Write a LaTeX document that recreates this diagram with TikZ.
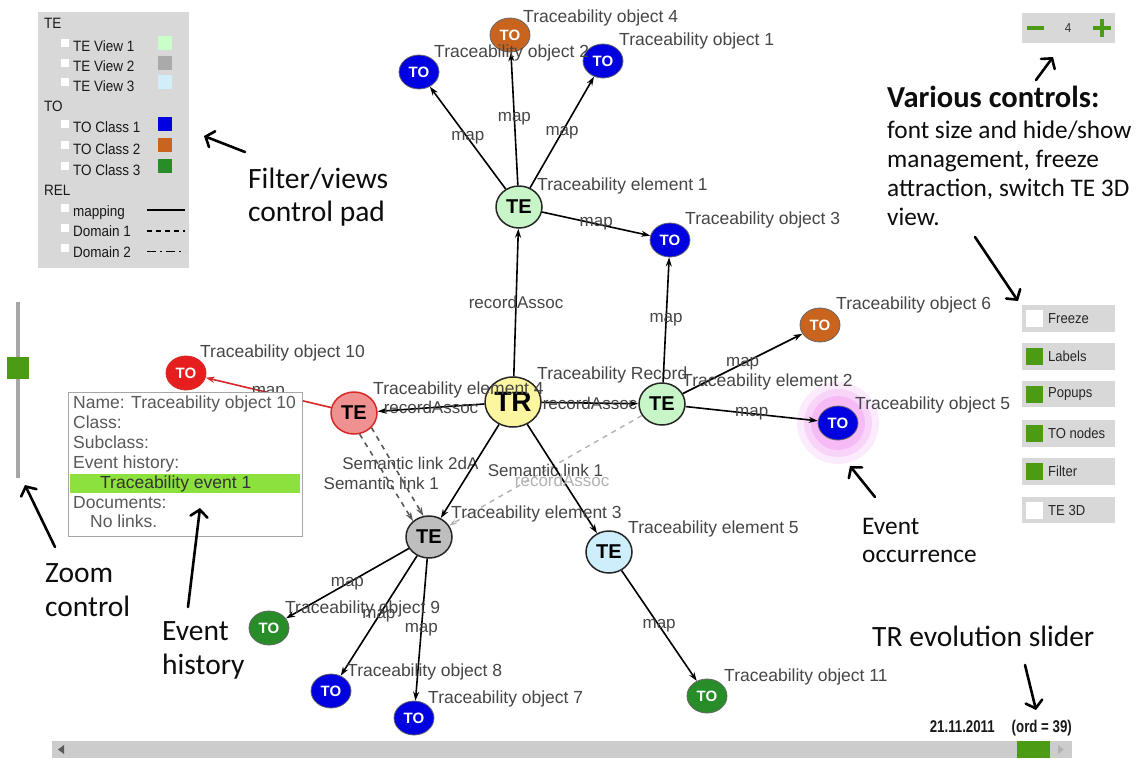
\documentclass[tikz,border=0pt]{standalone}
\usepackage{fontspec}
\usetikzlibrary{shapes.geometric,arrows.meta}
\newfontfamily\arialf{Liberation Sans}
\newfontfamily\legf[FakeStretch=0.9]{Liberation Sans}
\newfontfamily\datef[FakeStretch=0.78]{Liberation Sans}
\newfontfamily\calf{Carlito}
\definecolor{tegreen}{RGB}{200,245,200}
\definecolor{tegray}{RGB}{190,190,190}
\definecolor{teblue}{RGB}{205,238,250}
\definecolor{tered}{RGB}{240,145,145}
\definecolor{teredline}{RGB}{215,40,40}
\definecolor{tryellow}{RGB}{252,246,160}
\definecolor{toblue}{RGB}{0,0,225}
\definecolor{toorange}{RGB}{200,100,30}
\definecolor{togreen}{RGB}{40,140,40}
\definecolor{tored}{RGB}{230,30,30}
\definecolor{lblgray}{RGB}{70,70,70}
\definecolor{panelgray}{RGB}{216,216,216}
\definecolor{ctlgreen}{RGB}{75,155,20}
\definecolor{evgreen}{RGB}{140,225,60}
\definecolor{swgreen}{RGB}{200,255,200}
\definecolor{swgray}{RGB}{170,170,170}
\definecolor{swblue}{RGB}{210,238,250}
\definecolor{halo}{RGB}{240,120,240}
\begin{document}
\begin{tikzpicture}[x=1pt,y=-1pt,
  tenode/.style={ellipse, draw=black!85, line width=1.5pt, minimum width=46pt,
    minimum height=42pt, inner sep=0pt, font=\arialf\bfseries\fontsize{20}{20}\selectfont},
  tonode/.style={ellipse, draw=black!60, line width=0.8pt, minimum width=40pt,
    minimum height=34pt, inner sep=0pt, text=white,
    font=\arialf\bfseries\fontsize{15}{15}\selectfont},
  lbl/.style={anchor=base west, inner sep=0pt, text=lblgray,
    font=\arialf\fontsize{17.5}{20}\selectfont},
  elbl/.style={inner sep=0pt, text=lblgray, font=\arialf\fontsize{17}{20}\selectfont},
  link/.style={line width=1.6pt, -{Stealth[length=9pt,width=6pt]}},
  semdark/.style={line width=1.6pt, black!65, dash pattern=on 5pt off 5pt,
    -{Stealth[length=9pt,width=6pt]}},
  semlight/.style={line width=1.4pt, black!30, dash pattern=on 5pt off 5pt,
    -{Stealth[length=8pt,width=5pt]}},
  legtext/.style={anchor=base west, inner sep=0pt, text=black!90,
    font=\legf\fontsize{15}{15}\selectfont},
  btntext/.style={anchor=west, inner sep=0pt, text=black!85,
    font=\legf\fontsize{14.5}{15}\selectfont},
  poptext/.style={anchor=base west, inner sep=0pt, text=black!65,
    font=\arialf\fontsize{17.5}{20}\selectfont},
  calltext/.style={anchor=base west, inner sep=0pt, text=black!95,
    font=\calf\fontsize{29.5}{33}\selectfont},
  callsmall/.style={anchor=base west, inner sep=0pt, text=black!95,
    font=\calf\fontsize{25.3}{29}\selectfont},
  callarrow/.style={line width=2.6pt, line cap=round,
    -{Straight Barb[length=7pt,width=17pt,line cap=round]}}]
\useasboundingbox (0,0) rectangle (1142,758);
\fill[white] (0,0) rectangle (1142,758);

% ---------- filter / views pad ----------
\fill[panelgray] (38,12) rectangle (189,268);
\node[legtext] (lgTE) at (44,28.5) {TE};
\foreach \n/\t/\yy/\c in {v1/TE View 1/51.7/swgreen, v2/TE View 2/71.7/swgray,
    v3/TE View 3/91/swblue, c1/TO Class 1/132.7/toblue, c2/TO Class 2/154/toorange,
    c3/TO Class 3/175/togreen}{
  \fill[white] (61,{\yy-13}) rectangle (69,{\yy-5});
  \node[legtext] (lg\n) at (73,\yy) {\t};
  \fill[\c] (158,{\yy-16}) rectangle (172,{\yy-2});
}
\node[legtext] (lgTO) at (44,111) {TO};
\node[legtext] (lgREL) at (44,195.7) {REL};
\foreach \n/\t/\yy in {map/mapping/216.7, d1/Domain 1/236.7, d2/Domain 2/257.3}{
  \fill[white] (61,{\yy-13}) rectangle (69,{\yy-5});
  \node[legtext] (lg\n) at (73,\yy) {\t};
}
\draw[line width=1.8pt] (147,210) -- (185,210);
\draw[line width=1.8pt, dash pattern=on 5pt off 4pt] (147,231) -- (185,231);
\draw[line width=1.8pt, dash pattern=on 9pt off 4pt on 2pt off 4pt] (147,251.5) -- (185,251.5);

% ---------- font size control ----------
\fill[panelgray] (1022,13) rectangle (1115,43);
\draw[ctlgreen, line width=4pt] (1027,28) -- (1044,28);
\draw[ctlgreen, line width=4pt] (1093,28) -- (1111,28) (1102,19) -- (1102,37);
\node[inner sep=0pt, font=\legf\fontsize{13}{13}\selectfont, text=black!80] (fsize) at (1068,28) {4};

% ---------- toggle buttons ----------
\foreach \n/\t/\ya/\yb/\c in {fr/Freeze/305/332/white, la/Labels/343/370/ctlgreen,
    po/Popups/381/407/ctlgreen, tn/TO nodes/420/447/ctlgreen, fi/Filter/458/485/ctlgreen,
    td/TE 3D/497/523/white}{
  \fill[panelgray] (1022,\ya) rectangle (1115,\yb);
  \fill[\c] (1026,{(\ya+\yb)/2-8.5}) rectangle (1043,{(\ya+\yb)/2+8.5});
  \node[btntext] (bt\n) at (1048,{(\ya+\yb)/2}) {\t};
}

% ---------- zoom slider ----------
\draw[black!35, line width=4pt] (18,302) -- (18,478);
\fill[ctlgreen] (7,357) rectangle (29,379);

% ---------- evolution slider ----------
\fill[black!20] (52,741) rectangle (1072,758);
\fill[black!65] (58,749.5) -- (64,745) -- (64,754) -- cycle;
\fill[black!30] (1064,749.5) -- (1058,745) -- (1058,754) -- cycle;
\fill[ctlgreen] (1017,741) rectangle (1050,758);
\node[anchor=base east, inner sep=0pt, text=black!90,
  font=\datef\bfseries\fontsize{17}{17}\selectfont] (date) at (1072,732) {21.11.2011\quad(ord = 39)};

% ---------- occurrence halo ----------
\fill[halo, opacity=0.14] (838,423) circle (41);
\fill[halo, opacity=0.2] (838,423) circle (34);
\fill[halo, opacity=0.28] (838,423) circle (27);

% ---------- graph nodes ----------
\node[ellipse, draw=black!85, line width=1.5pt, fill=tryellow, minimum width=56pt,
  minimum height=50pt, inner sep=0pt, font=\arialf\bfseries\fontsize{28}{28}\selectfont] (TR) at (513,402) {TR};
\node[tenode, fill=tegreen] (TE1) at (519,207) {TE};
\node[tenode, fill=tegray] (TE3) at (429,537) {TE};
\node[tenode, fill=tered, draw=teredline] (TE4) at (354,413) {TE};
\node[tenode, fill=teblue] (TE5) at (609,552) {TE};
\node[tonode, fill=toblue] (TO2) at (419,72) {TO};
\node[tonode, fill=toorange] (TO4) at (510,35) {TO};
\node[tonode, fill=toblue] (TO1) at (603,61) {TO};
\node[tonode, fill=toblue] (TO3) at (670,240) {TO};
\node[tonode, fill=toorange] (TO6) at (820,325) {TO};
\node[tonode, fill=toblue] (TO5) at (838,423) {TO};
\node[tonode, fill=tored, draw=teredline] (TO10) at (186,373) {TO};
\node[tonode, fill=togreen] (TO9) at (269,628) {TO};
\node[tonode, fill=toblue] (TO8) at (331,691) {TO};
\node[tonode, fill=toblue] (TO7) at (414,718) {TO};
\node[tonode, fill=togreen] (TO11) at (707,696) {TO};
\node[lbl] (lTR) at (537,379) {Traceability Record};
\node[tenode, fill=tegreen] (TE2) at (662,404) {TE};

% ---------- connectors ----------
\draw[semlight] (TE2) -- node[elbl] {Semantic link 1} (TE3);
\draw[link] (TR) -- node[elbl, text=black!30, yshift=-2pt] {recordAssoc} (TE5);
\draw[semdark] (TE4.285) -- node[elbl, xshift=-5pt, yshift=-6pt] {Semantic link 1} (TE3.135);
\draw[semdark] (TE4.320) -- node[elbl, xshift=13pt, yshift=8pt] {Semantic link 2dA} (TE3.105);
\draw[link] (TR) -- node[elbl] {recordAssoc} (TE1);
\draw[link] (TE1) -- node[elbl] {map} (TO2);
\draw[link] (TE1) -- node[elbl] {map} (TO4);
\draw[link] (TE1) -- node[elbl] {map} (TO1);
\draw[link] (TE1) -- node[elbl] {map} (TO3);
\draw[link] (TE2) -- node[elbl] {map} (TO3);
\draw[link] (TE2) -- node[elbl] {map} (TO6);
\draw[link] (TE2) -- node[elbl] {map} (TO5);
\draw[link] (TR) -- node[elbl] {recordAssoc} (TE2);
\draw[link] (TR) -- node[elbl] {recordAssoc} (TE4);
\draw[link, teredline] (TE4) -- node[elbl] {map} (TO10);
\draw[link] (TR) -- (TE3);
\draw[link] (TE3) -- node[elbl] {map} (TO9);
\draw[link] (TE3) -- node[elbl] {map} (TO8);
\draw[link] (TE3) -- node[elbl] {map} (TO7);
\draw[link] (TE5) -- node[elbl] {map} (TO11);

% ---------- node captions ----------
\node[lbl] (lTO4) at (523,22) {Traceability object 4};
\node[lbl] (lTO2) at (434,57) {Traceability object 2};
\node[lbl] (lTO1) at (619,45) {Traceability object 1};
\node[lbl] (lTE1) at (537,190) {Traceability element 1};
\node[lbl] (lTO3) at (685,224) {Traceability object 3};
\node[lbl] (lTO6) at (836,309) {Traceability object 6};
\node[lbl] (lTE2) at (682,386) {Traceability element 2};
\node[lbl] (lTO5) at (855,409) {Traceability object 5};
\node[lbl] (lTE4) at (373,394) {Traceability element 4};
\node[lbl] (lTO10) at (200,357) {Traceability object 10};
\node[lbl] (lTE3) at (451,518) {Traceability element 3};
\node[lbl] (lTE5) at (628,533) {Traceability element 5};
\node[lbl] (lTO9) at (285,613) {Traceability object 9};
\node[lbl] (lTO8) at (347,676) {Traceability object 8};
\node[lbl] (lTO7) at (428,703) {Traceability object 7};
\node[lbl] (lTO11) at (724,681) {Traceability object 11};

% ---------- event popup ----------
\node[draw=black!35, fill=white, line width=1.2pt, minimum width=234pt, minimum height=144pt,
  anchor=north west, inner sep=0pt] (popup) at (68,392) {};
\fill[evgreen] (70,474) rectangle (300,493);
\node[poptext] (pName) at (73,408) {Name: Traceability object 10};
\node[poptext] (pClass) at (73,428) {Class:};
\node[poptext] (pSub) at (73,448) {Subclass:};
\node[poptext] (pHist) at (73,468) {Event history:};
\node[poptext, text=black!80] (pEv) at (100,488) {Traceability event 1};
\node[poptext] (pDoc) at (73,508) {Documents:};
\node[poptext] (pNo) at (90,527) {No links.};

% ---------- callouts ----------
\node[calltext] (cFilter1) at (248,188) {Filter/views};
\node[calltext] (cFilter2) at (248,221) {control pad};
\node[calltext, font=\calf\bfseries\fontsize{30.5}{33}\selectfont] (cVar1) at (887,107) {Various controls:};
\node[callsmall] (cVar2) at (887,138) {font size and hide/show};
\node[callsmall] (cVar3) at (887,167) {management, freeze};
\node[callsmall] (cVar4) at (887,196) {attraction, switch TE 3D};
\node[callsmall] (cVar5) at (887,225) {view.};
\node[calltext] (cZoom1) at (45,582) {Zoom};
\node[calltext] (cZoom2) at (45,616) {control};
\node[calltext] (cHist1) at (162,640) {Event};
\node[calltext] (cHist2) at (162,674) {history};
\node[callsmall] (cOcc1) at (862,534) {Event};
\node[callsmall] (cOcc2) at (862,562) {occurrence};
\node[calltext] (cSlider) at (872,646) {TR evolution slider};

\coordinate (aFvT) at (245,152);  \coordinate (aFvH) at (204,136);
\coordinate (aFsT) at (1036,80);  \coordinate (aFsH) at (1053,57);
\coordinate (aVcT) at (975,237);  \coordinate (aVcH) at (1018,301);
\coordinate (aZmT) at (55,547);   \coordinate (aZmH) at (25,485);
\coordinate (aEhT) at (188,607);  \coordinate (aEhH) at (200,508);
\coordinate (aEoT) at (875,497);  \coordinate (aEoH) at (850,466);
\coordinate (aSlT) at (1025,665); \coordinate (aSlH) at (1036,710);
\foreach \a in {Fv,Fs,Vc,Zm,Eh,Eo,Sl}{\draw[callarrow] (a\a T) -- (a\a H);}
\end{tikzpicture}
\end{document}
